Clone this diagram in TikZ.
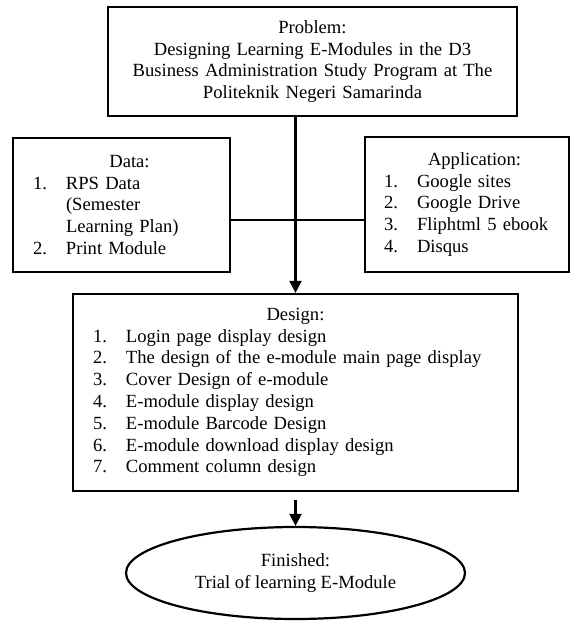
\documentclass[tikz,border=0pt]{standalone}
\usepackage{fontspec}
\setmainfont{Liberation Serif}
\usetikzlibrary{shapes.geometric,arrows.meta}

\newcommand{\numitem}[2]{\makebox[33pt][l]{#1}#2}
\newcommand{\boxtitle}[2][0pt]{\makebox[\linewidth]{\hspace{#1}#2}}

\tikzset{
	box/.style={draw, rectangle, line width=2.2pt, inner ysep=0pt, align=left, font=\fontsize{18.6}{21.8}\selectfont},
	flow/.style={line width=2.2pt},
	arrow/.style={flow, -{Triangle[width=12pt,length=12pt]}}
}

\begin{document}
\begin{tikzpicture}[x=1pt,y=-1pt]
		\useasboundingbox (0,0) rectangle (571,624);
		\node[box, align=center, text width=369pt, inner xsep=20pt, minimum height=109pt] (problem) at (312.5,61.5)
		{Problem:\\ Designing Learning E-Modules in the D3\\ Business Administration Study Program at The\\ Politeknik Negeri Samarinda};
		\node[box, text width=177pt, inner xsep=20pt, minimum height=134pt] (data) at (121.5,205)
		{\boxtitle[16pt]{Data:}\\ \numitem{1.}{RPS Data}\\ \numitem{}{(Semester}\\ \numitem{}{Learning Plan)}\\ \numitem{2.}{Print Module}};
		\node[box, text width=166pt, inner xsep=19pt, minimum height=135pt] (app) at (467,204.5)
		{\boxtitle[15pt]{Application:}\\ \numitem{1.}{Google sites}\\ \numitem{2.}{Google Drive}\\ \numitem{3.}{Fliphtml 5 ebook}\\ \numitem{4.}{Disqus}};
		\node[box, text width=405pt, inner xsep=20pt, minimum height=197pt] (design) at (295.5,392.5)
		{\boxtitle{Design:}\\ \numitem{1.}{Login page display design}\\ \numitem{2.}{The design of the e-module main page display}\\ \numitem{3.}{Cover Design of e-module}\\ \numitem{4.}{E-module display design}\\ \numitem{5.}{E-module Barcode Design}\\ \numitem{6.}{E-module download display design}\\ \numitem{7.}{Comment column design}};
		\node[ellipse, draw, line width=2.2pt, inner sep=0pt, minimum width=339pt, minimum height=92pt, align=center, font=\fontsize{18.6}{21.8}\selectfont] (finish) at (295.5,573)
		{Finished:\\ Trial of learning E-Module};
		\coordinate (hub) at (design.north |- 0,220);
		\draw[arrow] (problem.south -| design.north) -- (design.north);
		\draw[flow] (hub -| data.east) -- (hub -| app.west);
		\draw[arrow] ([yshift=-8pt]design.south) -- (finish.north);
	\end{tikzpicture}
\end{document}
